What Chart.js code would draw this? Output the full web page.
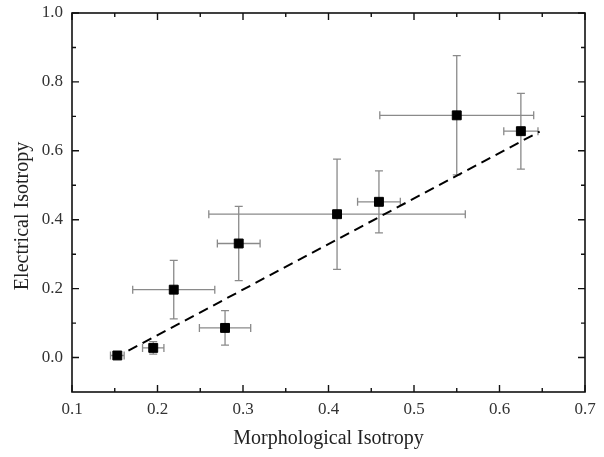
<!DOCTYPE html>
<html><head><meta charset="utf-8">
<script src="https://cdn.jsdelivr.net/npm/chart.js@4.4.0/dist/chart.umd.min.js"></script>
<style>html,body{margin:0;padding:0;background:#fff}#wrap{width:604px;height:457px}</style>
</head><body><div id="wrap"><canvas id="c" width="604" height="457"></canvas></div>
<script>
const xMorph = [0.153, 0.195, 0.219, 0.279, 0.295, 0.410, 0.459, 0.550, 0.625];
const yElec  = [0.006, 0.028, 0.197, 0.086, 0.331, 0.416, 0.452, 0.703, 0.657];
const xErr   = [0.008, 0.0125, 0.048, 0.030, 0.025, 0.150, 0.025, 0.090, 0.020];
const yErr   = [0.006, 0.018, 0.085, 0.050, 0.108, 0.160, 0.090, 0.173, 0.110];
const fitX = [0.166, 0.647];
const fitY = [0.020, 0.656];
const xTicks = [0.1, 0.2, 0.3, 0.4, 0.5, 0.6, 0.7];
const yTicks = [0.0, 0.2, 0.4, 0.6, 0.8, 1.0];
const xMinor = [0.15, 0.25, 0.35, 0.45, 0.55, 0.65];
const yMinor = [0.1, 0.3, 0.5, 0.7, 0.9];
const yTitle = 'Electrical Isotropy';
const xTitle = 'Morphological Isotropy';

const FONT = '"Liberation Serif", "Times New Roman", serif';

const decor = {
  id: 'decor',
  beforeDatasetsDraw(chart) {
    const {ctx, scales: {x, y}} = chart;
    ctx.save();
    ctx.strokeStyle = '#8a8a8a';
    ctx.lineWidth = 1.3;
    const cap = 4;
    for (let i = 0; i < xMorph.length; i++) {
      const px = x.getPixelForValue(xMorph[i]);
      const py = y.getPixelForValue(yElec[i]);
      const x1 = x.getPixelForValue(xMorph[i] - xErr[i]);
      const x2 = x.getPixelForValue(xMorph[i] + xErr[i]);
      const y1 = y.getPixelForValue(yElec[i] - yErr[i]);
      const y2 = y.getPixelForValue(yElec[i] + yErr[i]);
      ctx.beginPath();
      ctx.moveTo(x1, py); ctx.lineTo(x2, py);
      ctx.moveTo(x1, py - cap); ctx.lineTo(x1, py + cap);
      ctx.moveTo(x2, py - cap); ctx.lineTo(x2, py + cap);
      ctx.moveTo(px, y1); ctx.lineTo(px, y2);
      ctx.moveTo(px - cap, y1); ctx.lineTo(px + cap, y1);
      ctx.moveTo(px - cap, y2); ctx.lineTo(px + cap, y2);
      ctx.stroke();
    }
    ctx.restore();
  },
  afterDraw(chart) {
    const {ctx, chartArea: a, scales: {x, y}} = chart;
    ctx.save();
    ctx.strokeStyle = '#111';
    ctx.lineWidth = 1.6;
    ctx.strokeRect(a.left, a.top, a.right - a.left, a.bottom - a.top);
    ctx.lineWidth = 1.4;
    ctx.beginPath();
    const tx = (v, len) => {
      const p = x.getPixelForValue(v);
      ctx.moveTo(p, a.bottom); ctx.lineTo(p, a.bottom - len);
      ctx.moveTo(p, a.top); ctx.lineTo(p, a.top + len);
    };
    const ty = (v, len) => {
      const p = y.getPixelForValue(v);
      ctx.moveTo(a.left, p); ctx.lineTo(a.left + len, p);
      ctx.moveTo(a.right, p); ctx.lineTo(a.right - len, p);
    };
    xTicks.forEach(v => tx(v, 7));
    xMinor.forEach(v => tx(v, 4));
    yTicks.forEach(v => ty(v, 7));
    yMinor.forEach(v => ty(v, 4));
    ctx.stroke();
    // y-axis title (placed slightly below the plot centre, as in the reference)
    ctx.translate(23, 216);
    ctx.rotate(-Math.PI / 2);
    ctx.fillStyle = '#222';
    ctx.font = '20px ' + FONT;
    ctx.textAlign = 'center';
    ctx.textBaseline = 'middle';
    ctx.fillText(yTitle, 0, 0);
    ctx.restore();
  }
};

new Chart(document.getElementById('c'), {
  type: 'scatter',
  data: {
    datasets: [
      {
        label: 'data',
        data: xMorph.map((v, i) => ({x: v, y: yElec[i]})),
        pointStyle: 'rect',
        pointRadius: 6.3,
        pointHoverRadius: 6.3,
        backgroundColor: '#000',
        borderColor: '#000',
        borderWidth: 1,
        showLine: false
      },
      {
        label: 'fit',
        data: fitX.map((v, i) => ({x: v, y: fitY[i]})),
        showLine: true,
        borderColor: '#000',
        borderWidth: 2,
        borderDash: [10, 6],
        pointRadius: 0,
        fill: false
      }
    ]
  },
  options: {
    responsive: false,
    animation: false,
    devicePixelRatio: 1,
    layout: {padding: {top: 13, right: 19, left: 0, bottom: 0}},
    plugins: {legend: {display: false}, tooltip: {enabled: false}},
    scales: {
      x: {
        type: 'linear',
        min: 0.1, max: 0.7,
        afterBuildTicks: s => { s.ticks = xTicks.map(v => ({value: v})); },
        afterFit: s => { s.height = 65; s.paddingLeft = 0; s.paddingRight = 0; },
        grid: {display: false, drawTicks: false},
        border: {display: false},
        ticks: {
          padding: 7,
          color: '#333',
          font: {family: FONT, size: 17},
          callback: v => Number(v).toFixed(1)
        },
        title: {
          display: true,
          text: xTitle,
          color: '#222',
          font: {family: FONT, size: 20},
          padding: {top: 0, bottom: 6}
        }
      },
      y: {
        type: 'linear',
        min: -0.1, max: 1.0,
        afterBuildTicks: s => { s.ticks = yTicks.map(v => ({value: v})); },
        afterFit: s => { s.width = 72; s.paddingTop = 0; s.paddingBottom = 0; },
        grid: {display: false, drawTicks: false},
        border: {display: false},
        ticks: {
          padding: 9,
          color: '#333',
          font: {family: FONT, size: 17},
          callback: v => Number(v).toFixed(1)
        },
        title: {display: false}
      }
    }
  },
  plugins: [decor]
});
</script>
</body></html>
